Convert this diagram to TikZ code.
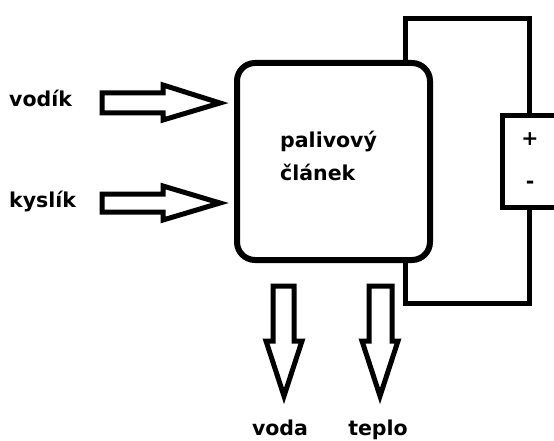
\documentclass[tikz,border=0pt]{standalone}
\usepackage{fontspec}
\setmainfont{DejaVu Sans}
\begin{document}
\begin{tikzpicture}[x=1pt,y=-1pt,
  lbl/.style={font=\bfseries\fontsize{20.5}{32}\selectfont, inner sep=0pt},
  hollow/.style={draw=black, fill=white, line width=5pt, line join=miter},
  wire/.style={draw=black, line width=5pt, line join=miter}]
\useasboundingbox[fill=white] (0,0) rectangle (554,441);
% fuel cell
\node[draw, line width=6pt, rounded corners=18pt, minimum width=193pt, minimum height=197pt, inner sep=0pt] (cell) at (333.5,161.5) {};
\node[lbl, anchor=base west] (celltxt1) at (280,148) {palivový};
\node[lbl, anchor=base west] (celltxt2) at (280,180) {článek};
% battery
\node[draw, line width=5pt, minimum width=72pt, minimum height=92pt, inner sep=0pt, anchor=north west] (bat) at (500,113) {};
\node[lbl] (plus) at (530,139) {+};
\node[lbl] (minus) at (530,185) {-};
\coordinate (wtop) at (405,19);
\coordinate (wbot) at (405,303);
\draw[wire] (cell.north -| wtop) -- (wtop) -| (529,113);
\draw[wire] (529,205) |- (wbot) -- (cell.south -| wbot);
% input labels
\node[lbl, anchor=base west] (vodik) at (9,107) {vodík};
\node[lbl, anchor=base west] (kyslik) at (9,207) {kyslík};
% input arrows
\draw[hollow] (102,93) -- (163,93) -- (163,85) -- (220,103) -- (163,120) -- (163,113) -- (102,113) -- cycle;
\draw[hollow] (102,194) -- (163,194) -- (163,186) -- (220,203) -- (163,220) -- (163,212) -- (102,212) -- cycle;
% output arrows
\draw[hollow] (273,286) -- (273,341) -- (266,341) -- (284,396) -- (302,341) -- (294,341) -- (294,286) -- cycle;
\draw[hollow] (369,286) -- (369,341) -- (362,341) -- (380,396) -- (398,341) -- (392,341) -- (392,286) -- cycle;
\node[lbl, anchor=base] (voda) at (280,435) {voda};
\node[lbl, anchor=base] (teplo) at (378,435) {teplo};
\end{tikzpicture}
\end{document}
